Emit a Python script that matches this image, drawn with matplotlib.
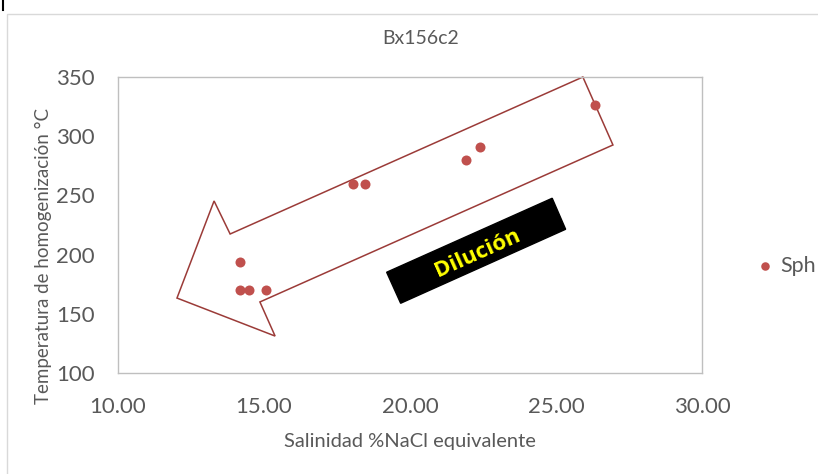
import numpy as np
import matplotlib.pyplot as plt
from matplotlib.patches import Polygon, Rectangle

plt.rcParams['font.family'] = ['Lato', 'DejaVu Sans']

# Datos (Salinidad %NaCl eq., Temperatura de homogenización)
salinidad = np.array([14.18, 14.18, 14.47, 15.08, 18.06, 18.47, 21.92, 22.40, 26.35])
temperatura = np.array([194, 170, 170, 170, 260, 260, 280, 291, 326])

x_ticks = [10, 15, 20, 25, 30]
y_ticks = [100, 150, 200, 250, 300, 350]

# Flecha de "Dilución" (coordenadas de datos)
flecha_x = [12.02, 13.29, 13.84, 25.92, 26.95, 14.86, 15.38]
flecha_y = [163.3, 245.3, 217.4, 350.0, 292.6, 160.0, 131.2]

# Recuadro negro del rótulo
caja_x = [19.20, 24.87, 25.33, 19.68]
caja_y = [185.1, 247.6, 221.4, 158.9]

gris_txt = '#595959'
rojo = '#C0504D'

fig = plt.figure(figsize=(8.18, 4.74), dpi=100)
ax = fig.add_axes([118/818, 1 - 373/474, (702 - 118)/818, (373 - 77)/474])

# borde del área del gráfico
fig.add_artist(Rectangle((7/818, -0.1), 1.0, 1 - 14/474 + 0.1, transform=fig.transFigure,
                         fill=False, edgecolor='#D9D9D9', linewidth=1))
fig.add_artist(plt.Line2D([3/818, 3/818], [1, 1 - 10/474], transform=fig.transFigure,
                          color='black', linewidth=1.5))

ax.scatter(salinidad, temperatura, s=52, color=rojo, zorder=3, label='Sph', linewidths=0)

ax.add_patch(Polygon(np.column_stack([flecha_x, flecha_y]), closed=True, fill=False,
                     edgecolor='#9B3B38', linewidth=1.1, clip_on=False, zorder=2))
ax.add_patch(Polygon(np.column_stack([caja_x, caja_y]), closed=True, facecolor='black',
                     edgecolor='black', zorder=4))
ax.text(22.33, 201.4, 'Dilución', rotation=24, rotation_mode='anchor', ha='center',
        va='center', color='#FFFF00', fontsize=16, fontweight='bold',
        family=['Open Sans', 'DejaVu Sans'], zorder=5)

ax.set_xlim(10, 30)
ax.set_ylim(100, 350)
ax.set_xticks(x_ticks)
ax.set_xticklabels([f'{v:.2f}' for v in x_ticks])
ax.set_yticks(y_ticks)
ax.tick_params(length=0, labelsize=16, labelcolor=gris_txt)
ax.tick_params(axis='x', pad=17)
ax.tick_params(axis='y', pad=17)
for s in ax.spines.values():
    s.set_color('#BFBFBF')
    s.set_linewidth(1)

fig.text(421/818, 1 - 38/474, 'Bx156c2', ha='center', va='center', fontsize=14, color=gris_txt)
fig.text(410/818, 1 - 441/474, 'Salinidad %NaCl equivalente', ha='center', va='center',
         fontsize=14.5, color=gris_txt)
fig.text(43/818, 1 - 256/474, 'Temperatura de homogenización °C', ha='center', va='center',
         rotation=90, fontsize=13.5, color=gris_txt)

ax.legend(loc='center left', bbox_to_anchor=(756/818, 1 - 266/474), bbox_transform=fig.transFigure,
          frameon=False, fontsize=15.5, handlelength=0.8, handletextpad=0.35, borderpad=0,
          borderaxespad=0, labelcolor=gris_txt, markerscale=0.85)

fig.savefig('out.png', dpi=100)
